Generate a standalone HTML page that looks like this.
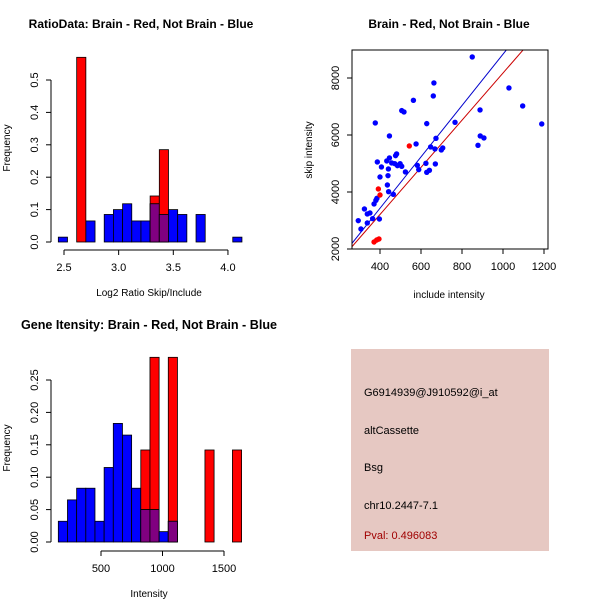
<!DOCTYPE html>
<html><head><meta charset="utf-8"><style>
body{margin:0;background:#fff}
svg{display:block;font-family:"Liberation Sans",sans-serif}
</style></head><body>
<svg id="s" width="600" height="600" viewBox="0 0 600 600">
<rect width="600" height="600" fill="#fff"/>
<g id="p1"></g>
<g id="p2"></g>
<g id="p3"></g>
<g id="p4">
<rect x="351" y="349" width="198" height="202" fill="#e6c8c2"/>
<text x="364" y="396" font-size="11">G6914939@J910592@i_at</text>
<text x="364" y="434" font-size="11">altCassette</text>
<text x="364" y="471" font-size="11">Bsg</text>
<text x="364" y="509" font-size="11">chr10.2447-7.1</text>
<text x="364" y="539" font-size="11" fill="#a00000">Pval: 0.496083</text>
</g>
</svg>
<script>
// Histogram 1: Log2 ratio
const h1Start = 2.448, h1Width = 0.084;
const h1Blue = [0.015,0,0,0.065,0,0.085,0.1,0.118,0.065,0.065,0.118,0.085,0.1,0.085,0,0.085,0,0,0,0.015];
const h1Red  = [0,0,0.57,0,0,0,0,0,0,0,0.142,0.285,0,0,0,0,0,0,0,0];
const h1XTicks = [2.5,3.0,3.5,4.0];
const h1XLabels = ["2.5","3.0","3.5","4.0"];
const h1YTicks = [0,0.1,0.2,0.3,0.4,0.5];
const h1YLabels = ["0.0","0.1","0.2","0.3","0.4","0.5"];
// Histogram 3: Intensity
const h3Start = 153, h3Width = 74.5;
const h3Blue = [0.032,0.065,0.083,0.083,0.032,0.115,0.183,0.165,0.083,0.05,0.05,0.016,0.032,0,0,0,0,0,0,0];
const h3Red  = [0,0,0,0,0,0,0,0,0,0.142,0.285,0,0.285,0,0,0,0.142,0,0,0.142];
const h3XTicks = [500,1000,1500];
const h3XLabels = ["500","1000","1500"];
const h3YTicks = [0,0.05,0.1,0.15,0.2,0.25];
const h3YLabels = ["0.00","0.05","0.10","0.15","0.20","0.25"];
// Scatter
const blueX = [294,307,324,338,338,351,364,371,380,385,377,387,397,400,407,433,436,439,441,442,446,446,457,465,472,476,481,485,498,506,506,517,524,563,576,582,589,624,628,628,641,647,663,660,668,670,673,699,706,766,850,878,888,889,907,1029,1096,1189];
const blueY = [2995,2702,3404,3229,2913,3264,3065,3580,3708,3778,6423,5054,3053,4527,4878,5089,4246,4574,4808,4012,5194,5966,5019,3919,4995,5276,5335,4925,4995,4902,6856,6809,4703,7218,5686,4937,4785,5007,6399,4691,4761,5580,7827,7370,5510,4984,5884,5475,5545,6446,8739,5639,6879,5966,5896,7651,7019,6388];
const redX = [371,384,395,392,400,543];
const redY = [2246,2316,2351,4106,3895,5615];
const blueLine = [-174, 9.01];
const redLine = [-97, 8.27];
const scXTicks = [400,600,800,1000,1200];
const scXLabels = ["400","600","800","1000","1200"];
const scYTicks = [2000,4000,6000,8000];
const scYLabels = ["2000","4000","6000","8000"];

const NS="http://www.w3.org/2000/svg";
function mk(parent,tag,attrs,name){
  const e=document.createElementNS(NS,tag);
  for(const k in attrs) e.setAttribute(k,attrs[k]);
  
  
  parent.appendChild(e); return e;
}
function txt(parent,x,y,s,opts,name){
  const t=mk(parent,'text',Object.assign({x:x,y:y,'font-size':11,'text-anchor':'middle'},opts||{}),name);
  t.textContent=s; return t;
}

function hist(g,cfg){
  const xs=v=>cfg.x0px+(v-cfg.x0)*cfg.xk;
  const ys=v=>cfg.y0px-v*cfg.yk;
  const n=cfg.blue.length;
  for(let i=0;i<n;i++){
    const l=xs(cfg.start+i*cfg.width), r=xs(cfg.start+(i+1)*cfg.width);
    const b=cfg.blue[i], rd=cfg.red[i];
    if(rd>0) mk(g,'rect',{x:l,y:ys(rd),width:r-l,height:ys(0)-ys(rd),fill:'#ff0000',stroke:'#000','stroke-width':0.8},'red-bar');
    if(b>0) mk(g,'rect',{x:l,y:ys(b),width:r-l,height:ys(0)-ys(b),fill:'#0000ff',stroke:'#000','stroke-width':0.8},'blue-bar');
    if(b>0&&rd>0){const m=Math.min(b,rd);mk(g,'rect',{x:l,y:ys(m),width:r-l,height:ys(0)-ys(m),fill:'#800080',stroke:'#000','stroke-width':0.8},'overlap-bar');}
  }
  const yt=cfg.yTicks;
  mk(g,'line',{x1:cfg.yAxisX,x2:cfg.yAxisX,y1:ys(yt[0]),y2:ys(yt[yt.length-1]),stroke:'#000'},'y-axis');
  yt.forEach((v,i)=>{
    mk(g,'line',{x1:cfg.yAxisX-5,x2:cfg.yAxisX,y1:ys(v),y2:ys(v),stroke:'#000'},'y-tick');
    txt(g,cfg.yAxisX-13,ys(v),cfg.yLabels[i],{transform:`rotate(-90 ${cfg.yAxisX-13} ${ys(v)})`},'y-tick-label');
  });
  const xt=cfg.xTicks;
  mk(g,'line',{x1:xs(xt[0]),x2:xs(xt[xt.length-1]),y1:cfg.xAxisY,y2:cfg.xAxisY,stroke:'#000'},'x-axis');
  xt.forEach((v,i)=>{
    mk(g,'line',{x1:xs(v),x2:xs(v),y1:cfg.xAxisY,y2:cfg.xAxisY+5,stroke:'#000'},'x-tick');
    txt(g,xs(v),cfg.xAxisY+21,cfg.xLabels[i],{},'x-tick-label');
  });
  txt(g,cfg.titleX,cfg.titleY,cfg.title,{'font-weight':'bold','font-size':cfg.titleSize},'plot-title');
  txt(g,cfg.xlabX,cfg.xAxisY+46,cfg.xlab,{'font-size':10},'x-axis-title');
  txt(g,10,cfg.ylabY,'Frequency',{'font-size':10,transform:`rotate(-90 10 ${cfg.ylabY})`},'y-axis-title');
}

hist(document.getElementById('p1'),{start:h1Start,width:h1Width,blue:h1Blue,red:h1Red,
  x0:2.5,x0px:64,xk:109.3,y0px:242,yk:324,yAxisX:51,xAxisY:250,
  xTicks:h1XTicks,xLabels:h1XLabels,yTicks:h1YTicks,yLabels:h1YLabels,titleSize:12,
  title:'RatioData: Brain - Red, Not Brain - Blue',titleX:141,titleY:28,xlab:'Log2 Ratio Skip/Include',xlabX:149,ylabY:148});
hist(document.getElementById('p3'),{start:h3Start,width:h3Width,blue:h3Blue,red:h3Red,
  x0:500,x0px:101,xk:0.123,y0px:542,yk:648,yAxisX:51,xAxisY:551,
  xTicks:h3XTicks,xLabels:h3XLabels,yTicks:h3YTicks,yLabels:h3YLabels,titleSize:12.6,
  title:'Gene Itensity: Brain - Red, Not Brain - Blue',titleX:149,titleY:329,xlab:'Intensity',xlabX:149,ylabY:448});

(function(){
  const g=document.getElementById('p2');
  const xs=v=>380+(v-400)*41/200;
  const ys=v=>249-(v-2000)*57/2000;
  const L=352,R=548,T=50,B=249;
  const cp=mk(g,'clipPath',{id:'cp'},'clip');
  mk(cp,'rect',{x:L,y:T,width:R-L,height:B-T},'clip-rect');
  const xa=263,xb=1220;
  [[redLine,'#cc0000','red-fit-line'],[blueLine,'#0000cc','blue-fit-line']].forEach(([ln,c,n])=>{
    mk(g,'line',{x1:xs(xa),y1:ys(ln[0]+ln[1]*xa),x2:xs(xb),y2:ys(ln[0]+ln[1]*xb),stroke:c,'stroke-width':1,'clip-path':'url(#cp)'},n);
  });
  blueX.forEach((v,i)=>mk(g,'circle',{cx:xs(v),cy:ys(blueY[i]),r:2.7,fill:'#0000ff'},'blue-point'));
  redX.forEach((v,i)=>mk(g,'circle',{cx:xs(v),cy:ys(redY[i]),r:2.7,fill:'#ff0000'},'red-point'));
  mk(g,'rect',{x:L,y:T,width:R-L,height:B-T,fill:'none',stroke:'#000'},'plot-box');
  scXTicks.forEach((v,i)=>{
    mk(g,'line',{x1:xs(v),x2:xs(v),y1:B,y2:B+5,stroke:'#000'},'x-tick');
    txt(g,xs(v),B+21,scXLabels[i],{},'x-tick-label');
  });
  scYTicks.forEach((v,i)=>{
    mk(g,'line',{x1:L-5,x2:L,y1:ys(v),y2:ys(v),stroke:'#000'},'y-tick');
    txt(g,L-13,ys(v),scYLabels[i],{transform:`rotate(-90 ${L-13} ${ys(v)})`},'y-tick-label');
  });
  txt(g,449,28,'Brain - Red, Not Brain - Blue',{'font-weight':'bold','font-size':12},'plot-title');
  txt(g,449,298,'include intensity',{'font-size':10},'x-axis-title');
  txt(g,312,150,'skip intensity',{'font-size':10,transform:'rotate(-90 312 150)'},'y-axis-title');
})();
</script>
</body></html>
